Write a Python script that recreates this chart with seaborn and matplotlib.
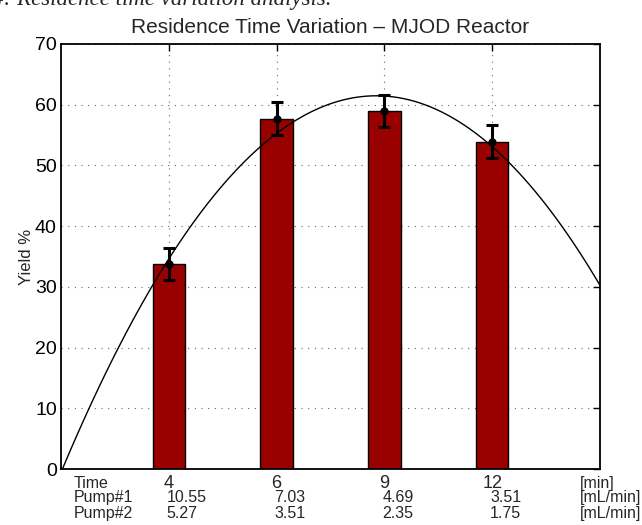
import numpy as np
import pandas as pd
import matplotlib
matplotlib.use("Agg")
import matplotlib.pyplot as plt
import matplotlib.transforms as mtrans
import seaborn as sns

# ---- data ----
times = ["4", "6", "9", "12"]                 # residence time [min]
pump1 = ["10.55", "7.03", "4.69", "3.51"]     # [mL/min]
pump2 = ["5.27", "3.51", "2.35", "1.75"]      # [mL/min]
yields = [33.8, 57.7, 59.0, 53.9]             # Yield %
errs = [2.65, 2.7, 2.65, 2.7]                 # error bar half-widths
yticks = [0, 10, 20, 30, 40, 50, 60, 70]
title = "Residence Time Variation \u2013 MJOD Reactor"
caption = "Figure 4: Residence time variation analysis."

sns.set_theme(style="white")
plt.rcParams["font.family"] = ["Liberation Sans", "DejaVu Sans"]

fig = plt.figure(figsize=(6.42, 5.25), dpi=100)
ax = fig.add_axes([61 / 642, 1 - 469 / 525, (600 - 61) / 642, (469 - 44) / 525])

df = pd.DataFrame({"time": times, "yield": yields})
sns.barplot(data=df, x="time", y="yield", order=times, color="#990000",
            saturation=1, width=0.3, edgecolor="black", linewidth=1,
            errorbar=None, ax=ax, zorder=2)

pos = np.arange(len(yields))
ax.set_xlim(-1, 4)
ax.set_ylim(0, 70)

# quadratic fit curve (least squares through the bar values)
sns.regplot(x=pos, y=np.array(yields), order=2, ci=None, scatter=False,
            truncate=False, ax=ax, color="black",
            line_kws=dict(linewidth=1.0, zorder=4))

ax.errorbar(pos, yields, yerr=errs, fmt="o", color="black", ms=5,
            elinewidth=2.2, capsize=4, capthick=2.2, zorder=5)

ax.set_xlim(-1, 4)
ax.set_ylim(0, 70)
ax.set_yticks(yticks)
ax.set_xticks(pos)
ax.set_xticklabels([])
ax.set_xlabel("")
ax.set_ylabel("Yield %", fontsize=12)
ax.yaxis.set_label_coords(-0.05, 0.5)
ax.set_title(title, fontsize=15, pad=8)
ax.tick_params(axis="both", direction="in", length=5, width=1,
               top=True, right=True, labelsize=14, colors="black", pad=3)
ax.tick_params(axis="x", labelbottom=False)
ax.grid(True, linestyle=(0, (1, 5)), color="#666666", linewidth=0.8)
ax.set_axisbelow(True)
for s in ax.spines.values():
    s.set_visible(True)
    s.set_color("black")
    s.set_linewidth(1.3)

# table of operating conditions under the axis
tr = mtrans.blended_transform_factory(ax.transData, ax.transAxes)
row_y = [-0.033, -0.067, -0.104]
ax.text(-0.88, row_y[0], "Time", transform=tr, ha="left", va="center", fontsize=11.5)
ax.text(-0.88, row_y[1], "Pump#1", transform=tr, ha="left", va="center", fontsize=11.5)
ax.text(-0.88, row_y[2], "Pump#2", transform=tr, ha="left", va="center", fontsize=11.5)
for i in range(len(times)):
    ax.text(pos[i], row_y[0], times[i], transform=tr, ha="center", va="center", fontsize=13)
    ax.text(pos[i] - 0.02, row_y[1], pump1[i], transform=tr, ha="left", va="center", fontsize=11.5)
    ax.text(pos[i] - 0.02, row_y[2], pump2[i], transform=tr, ha="left", va="center", fontsize=11.5)
ax.text(3.81, row_y[0], "[min]", transform=tr, ha="left", va="center", fontsize=11.5)
ax.text(3.81, row_y[1], "[mL/min]", transform=tr, ha="left", va="center", fontsize=11.5)
ax.text(3.81, row_y[2], "[mL/min]", transform=tr, ha="left", va="center", fontsize=11.5)

# partially visible caption at the very top (cut off as in the reference)
fig.text(332 / 642, 1.0 - 5 / 525, caption, ha="right", va="baseline",
         fontsize=16.5, style="italic", family=["Liberation Serif", "DejaVu Serif"])

fig.savefig("out.png", dpi=100)
